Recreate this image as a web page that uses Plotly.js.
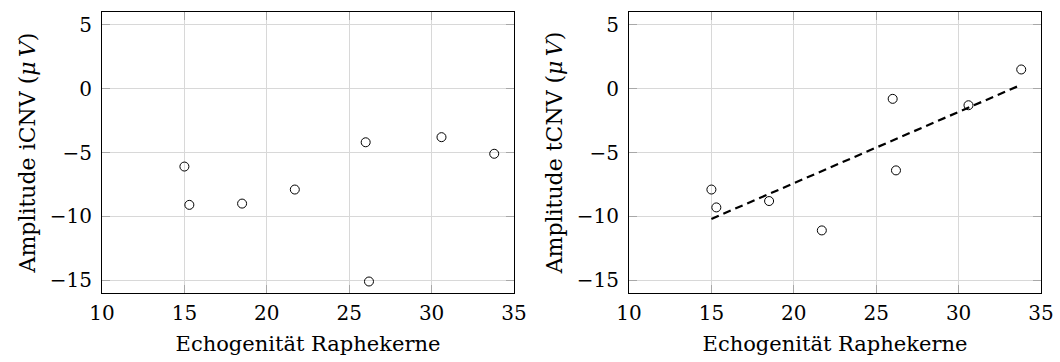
<!DOCTYPE html>
<html>
<head>
<meta charset="utf-8">
<script src="https://cdn.plot.ly/plotly-3.0.1.min.js"></script>
<style>html,body{margin:0;padding:0;background:#fff;}#chart{width:1060px;height:362px;}</style>
</head>
<body>
<div id="chart"></div>
<script>
// Data
var echoX = [15.0, 15.3, 18.5, 21.7, 26.0, 26.2, 30.6, 33.8];
var iCNV  = [-6.1, -9.1, -9.0, -7.9, -4.2, -15.1, -3.8, -5.1];
var echoXt = [15.0, 15.3, 18.5, 21.7, 26.0, 26.2, 30.6, 33.8];
var tCNV  = [-7.9, -9.3, -8.8, -11.1, -0.8, -6.4, -1.3, 1.5];
var trendX = [15.0, 33.8];
var trendY = [-10.2, 0.3];
var xTicks = [10, 15, 20, 25, 30, 35];
var yTicks = [-15, -10, -5, 0, 5];

var FONT = "DejaVu Serif";
var TICKSIZE = 20;
var TITLESIZE = 21;
var marker = {symbol: 'circle-open', size: 9, color: '#000', line: {width: 1, color: '#000'}};

var traces = [
  {x: echoX, y: iCNV, type: 'scatter', mode: 'markers', marker: marker, xaxis: 'x', yaxis: 'y', showlegend: false},
  {x: echoXt, y: tCNV, type: 'scatter', mode: 'markers', marker: marker, xaxis: 'x2', yaxis: 'y2', showlegend: false},
  {x: trendX, y: trendY, type: 'scatter', mode: 'lines', line: {color: '#000', width: 2.2, dash: '8px,5px'}, xaxis: 'x2', yaxis: 'y2', showlegend: false}
];

function xax(domain, anchor) {
  return {
    domain: domain, anchor: anchor, range: [10, 35], tickvals: xTicks, ticktext: xTicks.map(String),
    showgrid: true, gridcolor: '#d8d8d8', gridwidth: 1, zeroline: false,
    showline: true, linecolor: '#000', linewidth: 1, mirror: 'ticks',
    ticks: 'inside', ticklen: 8, tickcolor: '#a8a8a8', tickwidth: 1,
    ticklabelstandoff: 2,
    tickfont: {family: FONT, size: TICKSIZE, color: '#000'},
    title: {text: 'Echogenität Raphekerne', font: {family: FONT, size: TITLESIZE, color: '#000'}, standoff: 12},
    automargin: false, fixedrange: true
  };
}
function yax(domain, anchor, label) {
  return {
    domain: domain, anchor: anchor, range: [-16, 6], tickvals: yTicks,
    ticktext: yTicks.map(function(v){ return v < 0 ? '\u2212' + Math.abs(v) : String(v); }),
    showgrid: true, gridcolor: '#d8d8d8', gridwidth: 1, zeroline: false,
    showline: true, linecolor: '#000', linewidth: 1, mirror: 'ticks',
    ticks: 'inside', ticklen: 8, tickcolor: '#a8a8a8', tickwidth: 1,
    ticklabelstandoff: 5,
    tickfont: {family: FONT, size: TICKSIZE, color: '#000'},
    title: {text: label, font: {family: FONT, size: 22, color: '#000'}, standoff: 8},
    automargin: false, fixedrange: true
  };
}

var layout = {
  width: 1060, height: 362,
  margin: {l: 0, r: 0, t: 12, b: 69, pad: 0},
  paper_bgcolor: '#fff', plot_bgcolor: '#fff',
  font: {family: FONT, color: '#000'},
  xaxis: xax([102/1060, 514/1060], 'y'),
  yaxis: yax([0, 1], 'x', 'Amplitude iCNV (<i>\u03bc\u2009V</i>)'),
  xaxis2: xax([629/1060, 1041/1060], 'y2'),
  yaxis2: yax([0, 1], 'x2', 'Amplitude tCNV (<i>\u03bc\u2009V</i>)'),
  annotations: [
    {text: '<i>p</i>', xref: 'paper', yref: 'paper', x: 256 / 1060, y: 1.035,
     xanchor: 'center', yanchor: 'bottom', showarrow: false, font: {family: FONT, size: TITLESIZE, color: '#000'}}
  ],
  showlegend: false
};

Plotly.newPlot('chart', traces, layout, {displayModeBar: false, staticPlot: true});
</script>
</body>
</html>
